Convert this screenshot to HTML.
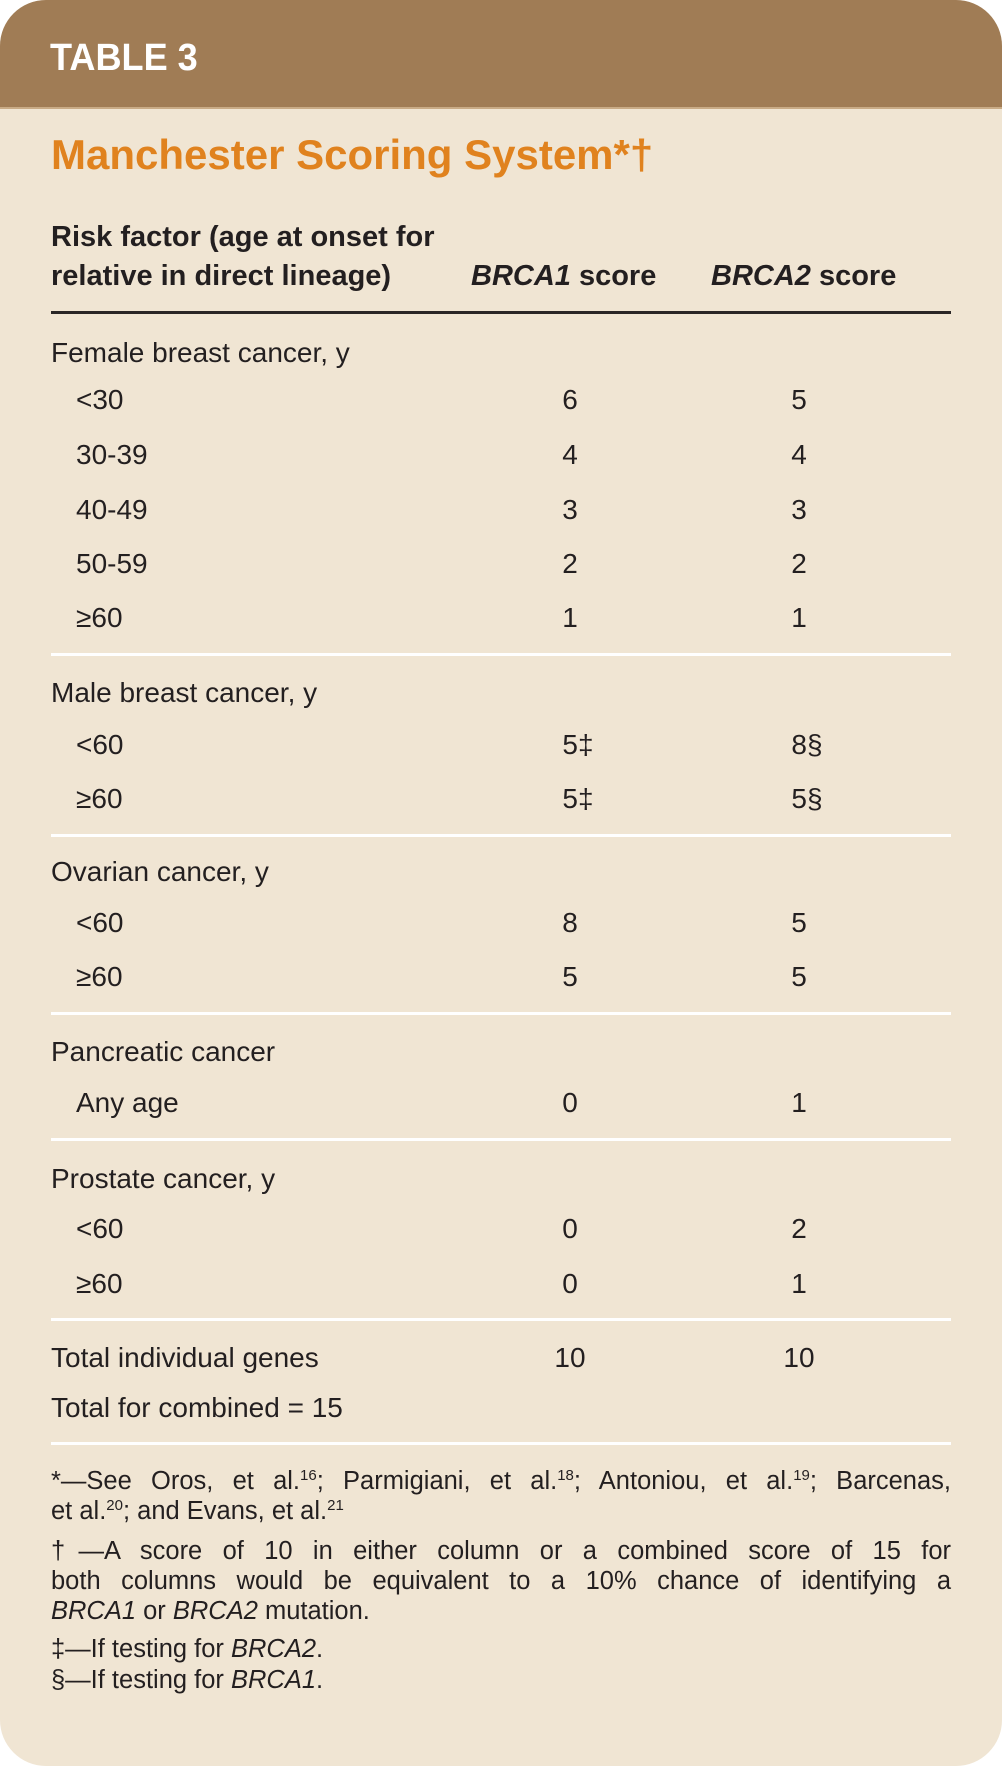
<!DOCTYPE html>
<html><head><meta charset="utf-8"><style>
html,body{margin:0;padding:0;background:#fff;}
#c{position:relative;width:1002px;height:1767px;overflow:hidden;font-family:"Liberation Sans",sans-serif;color:#231f20;}
#card{position:absolute;left:0;top:0;width:1002px;height:1766px;background:#f0e5d3;border-radius:46px;overflow:hidden;}
#hd{position:absolute;left:0;top:0;width:1002px;height:107px;background:#a07c55;border-bottom:2px solid #c9ab86;}
.t{position:absolute;white-space:nowrap;line-height:40px;height:40px;font-size:28px;}
.v{position:absolute;width:80px;text-align:center;line-height:40px;font-size:28px;}
.ln{position:absolute;left:51px;width:900px;height:3px;background:#fff;}
.fn{position:absolute;left:51px;width:900px;font-size:25.5px;line-height:30px;color:#231f20;white-space:nowrap;}
.j{text-align:justify;text-align-last:justify;}
sup{font-size:15px;line-height:0;vertical-align:9px;}
</style></head><body><div id="c"><div id="card">
<div id="hd"></div>
<div class="t" style="left:50px;top:38px;color:#fff;font-size:38px;font-weight:bold;transform:scaleX(0.95);transform-origin:left;">TABLE 3</div>
<div class="t" style="left:51px;top:135px;color:#e0821e;font-size:42px;font-weight:bold;">Manchester Scoring System*†</div>
<div class="t" style="left:51px;top:217px;font-weight:bold;font-size:29px;">Risk factor (age at onset for</div>
<div class="t" style="left:51px;top:256px;font-weight:bold;font-size:29px;">relative in direct lineage)</div>
<div class="t" style="left:471px;top:256px;font-weight:bold;font-size:29px;"><i>BRCA1</i> score</div>
<div class="t" style="left:711px;top:256px;font-weight:bold;font-size:29px;"><i>BRCA2</i> score</div>
<div style="position:absolute;left:51px;top:311px;width:900px;height:3px;background:#2a2626;"></div>

<div class="t" style="left:51px;top:333px;">Female breast cancer, y</div>
<div class="t" style="left:76px;top:380px;">&lt;30</div><div class="v" style="left:530px;top:380px;">6</div><div class="v" style="left:759px;top:380px;">5</div>
<div class="t" style="left:76px;top:435px;">30-39</div><div class="v" style="left:530px;top:435px;">4</div><div class="v" style="left:759px;top:435px;">4</div>
<div class="t" style="left:76px;top:490px;">40-49</div><div class="v" style="left:530px;top:490px;">3</div><div class="v" style="left:759px;top:490px;">3</div>
<div class="t" style="left:76px;top:544px;">50-59</div><div class="v" style="left:530px;top:544px;">2</div><div class="v" style="left:759px;top:544px;">2</div>
<div class="t" style="left:76px;top:598px;">≥60</div><div class="v" style="left:530px;top:598px;">1</div><div class="v" style="left:759px;top:598px;">1</div>
<div class="ln" style="top:653px;"></div>

<div class="t" style="left:51px;top:673px;">Male breast cancer, y</div>
<div class="t" style="left:76px;top:725px;">&lt;60</div><div class="v" style="left:538px;top:725px;">5‡</div><div class="v" style="left:767px;top:725px;">8§</div>
<div class="t" style="left:76px;top:779px;">≥60</div><div class="v" style="left:538px;top:779px;">5‡</div><div class="v" style="left:767px;top:779px;">5§</div>
<div class="ln" style="top:834px;"></div>

<div class="t" style="left:51px;top:852px;">Ovarian cancer, y</div>
<div class="t" style="left:76px;top:903px;">&lt;60</div><div class="v" style="left:530px;top:903px;">8</div><div class="v" style="left:759px;top:903px;">5</div>
<div class="t" style="left:76px;top:957px;">≥60</div><div class="v" style="left:530px;top:957px;">5</div><div class="v" style="left:759px;top:957px;">5</div>
<div class="ln" style="top:1012px;"></div>

<div class="t" style="left:51px;top:1032px;">Pancreatic cancer</div>
<div class="t" style="left:76px;top:1083px;">Any age</div><div class="v" style="left:530px;top:1083px;">0</div><div class="v" style="left:759px;top:1083px;">1</div>
<div class="ln" style="top:1138px;"></div>

<div class="t" style="left:51px;top:1159px;">Prostate cancer, y</div>
<div class="t" style="left:76px;top:1209px;">&lt;60</div><div class="v" style="left:530px;top:1209px;">0</div><div class="v" style="left:759px;top:1209px;">2</div>
<div class="t" style="left:76px;top:1264px;">≥60</div><div class="v" style="left:530px;top:1264px;">0</div><div class="v" style="left:759px;top:1264px;">1</div>
<div class="ln" style="top:1318px;"></div>

<div class="t" style="left:51px;top:1338px;">Total individual genes</div><div class="v" style="left:530px;top:1338px;">10</div><div class="v" style="left:759px;top:1338px;">10</div>
<div class="t" style="left:51px;top:1388px;">Total for combined = 15</div>
<div class="ln" style="top:1442px;"></div>

<div class="fn j" style="top:1466px;">*—See Oros, et al.<sup>16</sup>; Parmigiani, et al.<sup>18</sup>; Antoniou, et al.<sup>19</sup>; Barcenas,</div>
<div class="fn" style="top:1496px;">et al.<sup>20</sup>; and Evans, et al.<sup>21</sup></div>
<div class="fn j" style="top:1536px;">†—A score of 10 in either column or a combined score of 15 for</div>
<div class="fn j" style="top:1566px;">both columns would be equivalent to a 10% chance of identifying a</div>
<div class="fn" style="top:1596px;"><i>BRCA1</i> or <i>BRCA2</i> mutation.</div>
<div class="fn" style="top:1634px;">‡—If testing for <i>BRCA2</i>.</div>
<div class="fn" style="top:1665px;">§—If testing for <i>BRCA1</i>.</div>
</div></div></body></html>
